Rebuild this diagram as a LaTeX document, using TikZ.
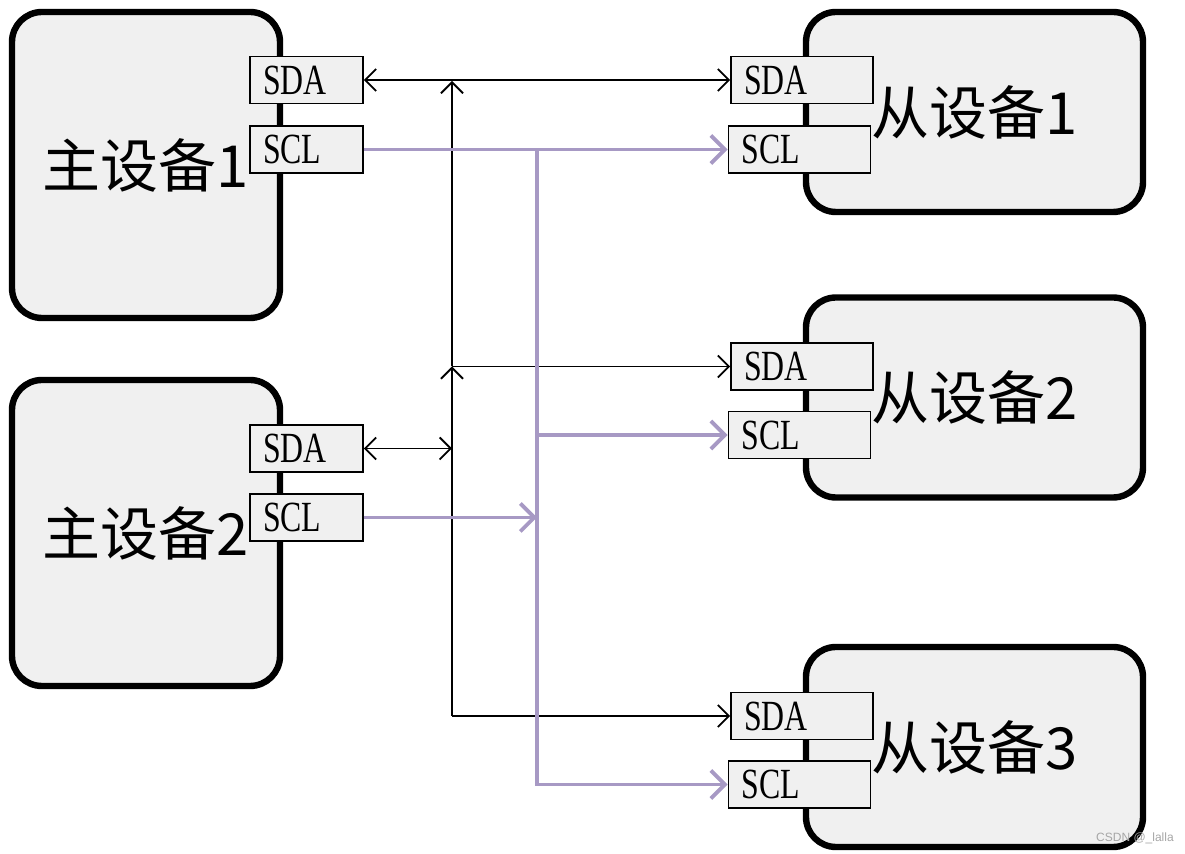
\documentclass[tikz,border=0pt]{standalone}
\usepackage{fontspec}
\usepackage{xcolor}
\setmainfont{Liberation Serif}
\newfontfamily\cjk{Noto Sans CJK SC}
\newfontfamily\pinfont{Liberation Serif}[FakeStretch=0.74]
\newfontfamily\marksans{Liberation Sans}
\usetikzlibrary{arrows.meta}
\definecolor{boxgray}{RGB}{240,240,240}
\definecolor{sclpurple}{RGB}{167,153,196}
\tikzset{
	dev/.style={draw, line width=3.2pt, rounded corners=15pt, fill=boxgray,
		font=\cjk\fontsize{29}{29}\selectfont},
	pin/.style={draw, line width=0.9pt, fill=boxgray, minimum height=23.5pt,
		inner xsep=6.5pt, inner ysep=0pt, align=left,
		font=\pinfont\fontsize{21.5}{21.5}\selectfont},
	mpin/.style={pin, text width=43.5pt},
	spin/.style={pin, text width=58pt},
	sda/.style={line width=0.9pt, >={Straight Barb[length=5.5pt,width=11pt]}},
	scl/.style={sclpurple, line width=1.9pt, -{Straight Barb[length=7pt,width=14pt]}}
}
\begin{document}
\begin{tikzpicture}[x=0.5pt,y=-0.5pt]

		    \useasboundingbox (0,0) rectangle (1185,854);

		    \node[dev, minimum width=134pt, minimum height=153pt] (M1) at (146,165) {主设备1};
		    \node[dev, minimum width=134pt, minimum height=153pt] (M2) at (146,533) {主设备2};
		    \node[dev, minimum width=168.5pt, minimum height=100pt] (S1) at (974.5,112) {从设备1};
		    \node[dev, minimum width=168.5pt, minimum height=100pt] (S2) at (974.5,397.5) {从设备2};
		    \node[dev, minimum width=168.5pt, minimum height=100pt] (S3) at (974.5,747) {从设备3};

		    \node[mpin] (M1sda) at (306.5,80) {SDA};
		    \node[mpin] (M1scl) at (306.5,149.5) {SCL};
		    \node[mpin] (M2sda) at (306.5,448.5) {SDA};
		    \node[mpin] (M2scl) at (306.5,517.5) {SCL};
		    \node[spin] (S1sda) at (802,80) {SDA};
		    \node[spin] (S1scl) at (799.5,149.5) {SCL};
		    \node[spin] (S2sda) at (802,366.5) {SDA};
		    \node[spin] (S2scl) at (799.5,435) {SCL};
		    \node[spin] (S3sda) at (802,716) {SDA};
		    \node[spin] (S3scl) at (799.5,784.5) {SCL};

		    \coordinate (busA) at (452,81);
		    \coordinate (busB) at (452,366.5);
		    \coordinate (busC) at (452,716);
		    \coordinate (clkA) at (537,149.5);
		    \coordinate (clkB) at (537,435);
		    \coordinate (clkC) at (537,517.5);

		    \draw[sda,<->] (M1sda.east) -- (S1sda.west);
		    \draw[sda,<->] (M2sda.east) -- (M2sda.east -| busA);
		    \draw[sda,->] (busC) -- (busB);
		    \draw[sda,->] (busB) -- (busA);
		    \draw[sda,->] (busB) -- (S2sda.west);
		    \draw[sda,->] (busC) -- (S3sda.west);

		    \draw[scl] (M1scl.east) -- (S1scl.west);
		    \draw[scl] (clkA) |- (S3scl.west);
		    \draw[scl] (clkB) -- (S2scl.west);
		    \draw[scl] (M2scl.east) -- (clkC);

		    \node[font=\marksans\fontsize{6}{6}\selectfont, text=gray!70] (mark) at (1135,838) {CSDN @\_lalla};

	    \end{tikzpicture}
\end{document}
